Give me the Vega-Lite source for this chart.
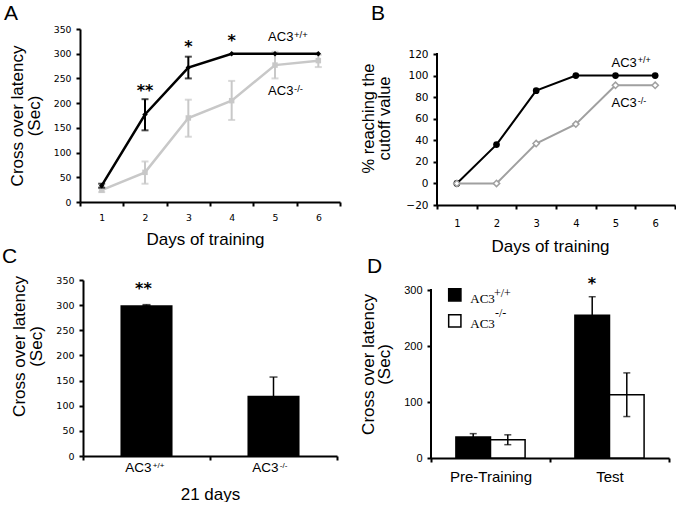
{
  "$schema": "https://vega.github.io/schema/vega-lite/v6.json",
  "background": "white",
  "padding": {"left": 2, "top": 3, "right": 0, "bottom": 0},
  "bounds": "flush",
  "columns": 2,
  "spacing": {"row": 75, "column": 91},
  "datasets": {
    "latency": [
      {"day": 1, "genotype": "WT", "mean": 33, "lo": 29, "hi": 37},
      {"day": 2, "genotype": "WT", "mean": 177, "lo": 145, "hi": 208},
      {"day": 3, "genotype": "WT", "mean": 272, "lo": 250, "hi": 294},
      {"day": 4, "genotype": "WT", "mean": 300, "lo": null, "hi": null},
      {"day": 5, "genotype": "WT", "mean": 300, "lo": null, "hi": null},
      {"day": 6, "genotype": "WT", "mean": 300, "lo": null, "hi": null},
      {"day": 1, "genotype": "KO", "mean": 24, "lo": 20, "hi": 28},
      {"day": 2, "genotype": "KO", "mean": 60, "lo": 37, "hi": 82},
      {"day": 3, "genotype": "KO", "mean": 170, "lo": 132, "hi": 207},
      {"day": 4, "genotype": "KO", "mean": 205, "lo": 166, "hi": 245},
      {"day": 5, "genotype": "KO", "mean": 277, "lo": 250, "hi": 304},
      {"day": 6, "genotype": "KO", "mean": 286, "lo": 273, "hi": 298}
    ],
    "signifA": [
      {"day": 2, "stars": "**", "level": 225},
      {"day": 3, "stars": "*", "level": 313},
      {"day": 4, "stars": "*", "level": 325}
    ],
    "cutoff": [
      {"day": 1, "genotype": "WT", "pct": 0},
      {"day": 2, "genotype": "WT", "pct": 36},
      {"day": 3, "genotype": "WT", "pct": 86},
      {"day": 4, "genotype": "WT", "pct": 100},
      {"day": 5, "genotype": "WT", "pct": 100},
      {"day": 6, "genotype": "WT", "pct": 100},
      {"day": 1, "genotype": "KO", "pct": 0},
      {"day": 2, "genotype": "KO", "pct": 0},
      {"day": 3, "genotype": "KO", "pct": 37},
      {"day": 4, "genotype": "KO", "pct": 55},
      {"day": 5, "genotype": "KO", "pct": 91},
      {"day": 6, "genotype": "KO", "pct": 91}
    ],
    "trial21": [
      {"genotype": "AC3+/+", "base": "AC3", "sup": "+/+", "mean": 300, "lo": 299, "hi": 301},
      {"genotype": "AC3-/-", "base": "AC3", "sup": "-/-", "mean": 120, "lo": 83, "hi": 157}
    ],
    "avoidance": [
      {"phase": "Pre-Training", "genotype": "WT", "mean": 37.5, "lo": 31.5, "hi": 43.5},
      {"phase": "Pre-Training", "genotype": "KO", "mean": 32.6, "lo": 23.8, "hi": 41.4},
      {"phase": "Test", "genotype": "WT", "mean": 255, "lo": 222, "hi": 288},
      {"phase": "Test", "genotype": "KO", "mean": 113, "lo": 74, "hi": 152}
    ]
  },
  "concat": [
    {
      "width": 260,
      "height": 173,
      "data": {"name": "latency"},
      "encoding": {
        "x": {"field": "day", "type": "ordinal", "scale": {"type": "band", "paddingInner": 0, "paddingOuter": 0},
              "axis": {"title": "Days of training", "tickBand": "extent", "labelFontSize": 9.3, "labelPadding": 7, "titlePadding": 9, "titleX": 125}}
      },
      "layer": [
        {"transform": [{"filter": "datum.genotype === 'KO'"}],
         "mark": {"type": "line", "color": "#c8c8c8", "strokeWidth": 2.5},
         "encoding": {"y": {"field": "mean", "type": "quantitative", "scale": {"domain": [0, 350], "nice": false},
           "axis": {"values": [0, 50, 100, 150, 200, 250, 300, 350], "labelOverlap": false, "title": ["Cross over latency", "(Sec)"], "labelFontSize": 9.3, "titlePadding": 10, "titleLineHeight": 17, "labelPadding": 5}}}},
        {"transform": [{"filter": "datum.genotype === 'KO'"}],
         "mark": {"type": "rule", "color": "#c8c8c8", "strokeWidth": 2},
         "encoding": {"y": {"field": "lo", "type": "quantitative", "scale": {"domain": [0, 350], "nice": false},
           "axis": {"values": [0, 50, 100, 150, 200, 250, 300, 350], "labelOverlap": false, "title": ["Cross over latency", "(Sec)"], "labelFontSize": 9.3, "titlePadding": 10, "titleLineHeight": 17, "labelPadding": 5}}, "y2": {"field": "hi"}}},
        {"transform": [{"filter": "datum.genotype === 'KO'"}, {"fold": ["lo", "hi"], "as": ["bound", "edge"]}],
         "mark": {"type": "tick", "color": "#c8c8c8", "size": 7, "thickness": 2},
         "encoding": {"y": {"field": "edge", "type": "quantitative", "scale": {"domain": [0, 350], "nice": false},
           "axis": {"values": [0, 50, 100, 150, 200, 250, 300, 350], "labelOverlap": false, "title": ["Cross over latency", "(Sec)"], "labelFontSize": 9.3, "titlePadding": 10, "titleLineHeight": 17, "labelPadding": 5}}}},
        {"transform": [{"filter": "datum.genotype === 'KO'"}],
         "mark": {"type": "point", "shape": "square", "filled": true, "color": "#c8c8c8", "size": 30, "opacity": 1},
         "encoding": {"y": {"field": "mean", "type": "quantitative", "scale": {"domain": [0, 350], "nice": false},
           "axis": {"values": [0, 50, 100, 150, 200, 250, 300, 350], "labelOverlap": false, "title": ["Cross over latency", "(Sec)"], "labelFontSize": 9.3, "titlePadding": 10, "titleLineHeight": 17, "labelPadding": 5}}}},
        {"transform": [{"filter": "datum.genotype === 'WT'"}],
         "mark": {"type": "line", "color": "black", "strokeWidth": 2.5},
         "encoding": {"y": {"field": "mean", "type": "quantitative", "scale": {"domain": [0, 350], "nice": false},
           "axis": {"values": [0, 50, 100, 150, 200, 250, 300, 350], "labelOverlap": false, "title": ["Cross over latency", "(Sec)"], "labelFontSize": 9.3, "titlePadding": 10, "titleLineHeight": 17, "labelPadding": 5}}}},
        {"transform": [{"filter": "datum.genotype === 'WT'"}],
         "mark": {"type": "rule", "color": "black", "strokeWidth": 2},
         "encoding": {"y": {"field": "lo", "type": "quantitative", "scale": {"domain": [0, 350], "nice": false},
           "axis": {"values": [0, 50, 100, 150, 200, 250, 300, 350], "labelOverlap": false, "title": ["Cross over latency", "(Sec)"], "labelFontSize": 9.3, "titlePadding": 10, "titleLineHeight": 17, "labelPadding": 5}}, "y2": {"field": "hi"}}},
        {"transform": [{"filter": "datum.genotype === 'WT'"}, {"fold": ["lo", "hi"], "as": ["bound", "edge"]}],
         "mark": {"type": "tick", "color": "black", "size": 7, "thickness": 2},
         "encoding": {"y": {"field": "edge", "type": "quantitative", "scale": {"domain": [0, 350], "nice": false},
           "axis": {"values": [0, 50, 100, 150, 200, 250, 300, 350], "labelOverlap": false, "title": ["Cross over latency", "(Sec)"], "labelFontSize": 9.3, "titlePadding": 10, "titleLineHeight": 17, "labelPadding": 5}}}},
        {"transform": [{"filter": "datum.genotype === 'WT'"}],
         "mark": {"type": "point", "shape": "diamond", "filled": true, "color": "black", "size": 30, "opacity": 1},
         "encoding": {"y": {"field": "mean", "type": "quantitative", "scale": {"domain": [0, 350], "nice": false},
           "axis": {"values": [0, 50, 100, 150, 200, 250, 300, 350], "labelOverlap": false, "title": ["Cross over latency", "(Sec)"], "labelFontSize": 9.3, "titlePadding": 10, "titleLineHeight": 17, "labelPadding": 5}}}},
        {"data": {"name": "signifA"},
         "mark": {"type": "text", "font": "DejaVu Sans", "fontWeight": "bold", "fontSize": 16, "baseline": "middle", "color": "black"},
         "encoding": {"y": {"field": "level", "type": "quantitative", "scale": {"domain": [0, 350], "nice": false},
           "axis": {"values": [0, 50, 100, 150, 200, 250, 300, 350], "labelOverlap": false, "title": ["Cross over latency", "(Sec)"], "labelFontSize": 9.3, "titlePadding": 10, "titleLineHeight": 17, "labelPadding": 5}}, "text": {"field": "stars"}}},
        {"data": {"values": [{"label": "AC3", "sup": "+/+"}]},
         "mark": {"type": "text", "align": "left", "baseline": "alphabetic", "fontSize": 13, "color": "black"},
         "encoding": {"x": {"datum": 5, "type": "ordinal", "bandPosition": 0.34},
           "y": {"datum": 326, "type": "quantitative", "scale": {"domain": [0, 350], "nice": false},
             "axis": {"values": [0, 50, 100, 150, 200, 250, 300, 350], "labelOverlap": false, "title": ["Cross over latency", "(Sec)"], "labelFontSize": 9.3, "titlePadding": 10, "titleLineHeight": 17, "labelPadding": 5}},
           "text": {"field": "label"}}},
        {"data": {"values": [{"label": "AC3", "sup": "+/+"}]},
         "mark": {"type": "text", "align": "left", "baseline": "alphabetic", "fontSize": 9.5, "color": "black"},
         "encoding": {"x": {"datum": 5, "type": "ordinal", "bandPosition": 0.94},
           "y": {"datum": 331, "type": "quantitative", "scale": {"domain": [0, 350], "nice": false},
             "axis": {"values": [0, 50, 100, 150, 200, 250, 300, 350], "labelOverlap": false, "title": ["Cross over latency", "(Sec)"], "labelFontSize": 9.3, "titlePadding": 10, "titleLineHeight": 17, "labelPadding": 5}},
           "text": {"field": "sup"}}},
        {"data": {"values": [{"label": "AC3", "sup": "-/-"}]},
         "mark": {"type": "text", "align": "left", "baseline": "alphabetic", "fontSize": 13, "color": "black"},
         "encoding": {"x": {"datum": 5, "type": "ordinal", "bandPosition": 0.34},
           "y": {"datum": 216.5, "type": "quantitative", "scale": {"domain": [0, 350], "nice": false},
             "axis": {"values": [0, 50, 100, 150, 200, 250, 300, 350], "labelOverlap": false, "title": ["Cross over latency", "(Sec)"], "labelFontSize": 9.3, "titlePadding": 10, "titleLineHeight": 17, "labelPadding": 5}},
           "text": {"field": "label"}}},
        {"data": {"values": [{"label": "AC3", "sup": "-/-"}]},
         "mark": {"type": "text", "align": "left", "baseline": "alphabetic", "fontSize": 9.5, "color": "black"},
         "encoding": {"x": {"datum": 5, "type": "ordinal", "bandPosition": 0.94},
           "y": {"datum": 222, "type": "quantitative", "scale": {"domain": [0, 350], "nice": false},
             "axis": {"values": [0, 50, 100, 150, 200, 250, 300, 350], "labelOverlap": false, "title": ["Cross over latency", "(Sec)"], "labelFontSize": 9.3, "titlePadding": 10, "titleLineHeight": 17, "labelPadding": 5}},
           "text": {"field": "sup"}}},
        {"data": {"values": [{"letter": "A"}]},
         "mark": {"type": "text", "align": "left", "baseline": "alphabetic", "fontSize": 21, "dx": -76, "dy": -9, "color": "black"},
         "encoding": {"x": {"datum": 1, "type": "ordinal", "bandPosition": 0},
           "y": {"datum": 350, "type": "quantitative", "scale": {"domain": [0, 350], "nice": false},
             "axis": {"values": [0, 50, 100, 150, 200, 250, 300, 350], "labelOverlap": false, "title": ["Cross over latency", "(Sec)"], "labelFontSize": 9.3, "titlePadding": 10, "titleLineHeight": 17, "labelPadding": 5}},
           "text": {"field": "letter"}}}
      ]
    },
    {
      "width": 244,
      "height": 176,
      "data": {"name": "cutoff"},
      "encoding": {
        "x": {"field": "day", "type": "ordinal", "scale": {"type": "band", "paddingInner": 0, "paddingOuter": 0, "range": [6, 244]},
              "axis": {"title": "Days of training", "tickBand": "extent", "labelFontSize": 10, "labelPadding": 9, "titlePadding": 10, "titleX": 119}}
      },
      "layer": [
        {"data": {"values": [{"from": -20, "to": 120}]},
         "mark": {"type": "rule", "color": "black", "strokeWidth": 2, "strokeCap": "square"},
         "encoding": {"x": {"datum": 1, "type": "ordinal", "bandPosition": 0},
           "y": {"field": "from", "type": "quantitative", "scale": {"domain": [-20, 143.18], "nice": false},
             "axis": {"values": [-20, 0, 20, 40, 60, 80, 100, 120], "labelOverlap": false, "domain": false, "offset": -6, "title": ["% reaching the", "cutoff value"], "labelFontSize": 10.5, "titleFontSize": 16.5, "titlePadding": 13, "titleLineHeight": 16, "titleY": 89, "labelPadding": 5}},
           "y2": {"field": "to"}}},
        {"transform": [{"filter": "datum.genotype === 'WT'"}],
         "mark": {"type": "line", "color": "black", "strokeWidth": 2},
         "encoding": {"y": {"field": "pct", "type": "quantitative", "scale": {"domain": [-20, 143.18], "nice": false},
           "axis": {"values": [-20, 0, 20, 40, 60, 80, 100, 120], "labelOverlap": false, "domain": false, "offset": -6, "title": ["% reaching the", "cutoff value"], "labelFontSize": 10.5, "titleFontSize": 16.5, "titlePadding": 13, "titleLineHeight": 16, "titleY": 89, "labelPadding": 5}}}},
        {"transform": [{"filter": "datum.genotype === 'WT'"}],
         "mark": {"type": "point", "shape": "circle", "filled": true, "color": "black", "size": 45, "opacity": 1},
         "encoding": {"y": {"field": "pct", "type": "quantitative", "scale": {"domain": [-20, 143.18], "nice": false},
           "axis": {"values": [-20, 0, 20, 40, 60, 80, 100, 120], "labelOverlap": false, "domain": false, "offset": -6, "title": ["% reaching the", "cutoff value"], "labelFontSize": 10.5, "titleFontSize": 16.5, "titlePadding": 13, "titleLineHeight": 16, "titleY": 89, "labelPadding": 5}}}},
        {"transform": [{"filter": "datum.genotype === 'KO'"}],
         "mark": {"type": "line", "color": "#a0a0a0", "strokeWidth": 2},
         "encoding": {"y": {"field": "pct", "type": "quantitative", "scale": {"domain": [-20, 143.18], "nice": false},
           "axis": {"values": [-20, 0, 20, 40, 60, 80, 100, 120], "labelOverlap": false, "domain": false, "offset": -6, "title": ["% reaching the", "cutoff value"], "labelFontSize": 10.5, "titleFontSize": 16.5, "titlePadding": 13, "titleLineHeight": 16, "titleY": 89, "labelPadding": 5}}}},
        {"transform": [{"filter": "datum.genotype === 'KO'"}],
         "mark": {"type": "point", "shape": "diamond", "filled": false, "fill": "white", "stroke": "#a0a0a0", "strokeWidth": 1.5, "size": 40, "opacity": 1},
         "encoding": {"y": {"field": "pct", "type": "quantitative", "scale": {"domain": [-20, 143.18], "nice": false},
           "axis": {"values": [-20, 0, 20, 40, 60, 80, 100, 120], "labelOverlap": false, "domain": false, "offset": -6, "title": ["% reaching the", "cutoff value"], "labelFontSize": 10.5, "titleFontSize": 16.5, "titlePadding": 13, "titleLineHeight": 16, "titleY": 89, "labelPadding": 5}}}},
        {"data": {"values": [{"label": "AC3", "sup": "+/+"}]},
         "mark": {"type": "text", "align": "left", "baseline": "alphabetic", "fontSize": 13, "color": "black"},
         "encoding": {"x": {"datum": 5, "type": "ordinal", "bandPosition": 0.4},
           "y": {"datum": 108, "type": "quantitative", "scale": {"domain": [-20, 143.18], "nice": false},
             "axis": {"values": [-20, 0, 20, 40, 60, 80, 100, 120], "labelOverlap": false, "domain": false, "offset": -6, "title": ["% reaching the", "cutoff value"], "labelFontSize": 10.5, "titleFontSize": 16.5, "titlePadding": 13, "titleLineHeight": 16, "titleY": 89, "labelPadding": 5}},
           "text": {"field": "label"}}},
        {"data": {"values": [{"label": "AC3", "sup": "+/+"}]},
         "mark": {"type": "text", "align": "left", "baseline": "alphabetic", "fontSize": 9, "color": "black"},
         "encoding": {"x": {"datum": 6, "type": "ordinal", "bandPosition": 0.06},
           "y": {"datum": 112, "type": "quantitative", "scale": {"domain": [-20, 143.18], "nice": false},
             "axis": {"values": [-20, 0, 20, 40, 60, 80, 100, 120], "labelOverlap": false, "domain": false, "offset": -6, "title": ["% reaching the", "cutoff value"], "labelFontSize": 10.5, "titleFontSize": 16.5, "titlePadding": 13, "titleLineHeight": 16, "titleY": 89, "labelPadding": 5}},
           "text": {"field": "sup"}}},
        {"data": {"values": [{"label": "AC3", "sup": "-/-"}]},
         "mark": {"type": "text", "align": "left", "baseline": "alphabetic", "fontSize": 13, "color": "black"},
         "encoding": {"x": {"datum": 5, "type": "ordinal", "bandPosition": 0.4},
           "y": {"datum": 70.6, "type": "quantitative", "scale": {"domain": [-20, 143.18], "nice": false},
             "axis": {"values": [-20, 0, 20, 40, 60, 80, 100, 120], "labelOverlap": false, "domain": false, "offset": -6, "title": ["% reaching the", "cutoff value"], "labelFontSize": 10.5, "titleFontSize": 16.5, "titlePadding": 13, "titleLineHeight": 16, "titleY": 89, "labelPadding": 5}},
           "text": {"field": "label"}}},
        {"data": {"values": [{"label": "AC3", "sup": "-/-"}]},
         "mark": {"type": "text", "align": "left", "baseline": "alphabetic", "fontSize": 9, "color": "black"},
         "encoding": {"x": {"datum": 6, "type": "ordinal", "bandPosition": 0.06},
           "y": {"datum": 74, "type": "quantitative", "scale": {"domain": [-20, 143.18], "nice": false},
             "axis": {"values": [-20, 0, 20, 40, 60, 80, 100, 120], "labelOverlap": false, "domain": false, "offset": -6, "title": ["% reaching the", "cutoff value"], "labelFontSize": 10.5, "titleFontSize": 16.5, "titlePadding": 13, "titleLineHeight": 16, "titleY": 89, "labelPadding": 5}},
           "text": {"field": "sup"}}},
        {"data": {"values": [{"letter": "B"}]},
         "mark": {"type": "text", "align": "left", "baseline": "alphabetic", "fontSize": 21, "dx": -66, "dy": -34, "color": "black"},
         "encoding": {"x": {"datum": 1, "type": "ordinal", "bandPosition": 0},
           "y": {"datum": 120, "type": "quantitative", "scale": {"domain": [-20, 143.18], "nice": false},
             "axis": {"values": [-20, 0, 20, 40, 60, 80, 100, 120], "labelOverlap": false, "domain": false, "offset": -6, "title": ["% reaching the", "cutoff value"], "labelFontSize": 10.5, "titleFontSize": 16.5, "titlePadding": 13, "titleLineHeight": 16, "titleY": 89, "labelPadding": 5}},
           "text": {"field": "letter"}}}
      ]
    },
    {
      "width": 257,
      "height": 176,
      "data": {"name": "trial21"},
      "encoding": {
        "x": {"field": "genotype", "type": "nominal", "sort": null, "scale": {"type": "band", "paddingInner": 0, "paddingOuter": 0, "range": [3, 257]},
              "axis": {"labels": false, "tickBand": "extent", "title": "21 days", "titlePadding": 25, "titleFontSize": 17}}
      },
      "layer": [
        {"mark": {"type": "bar", "color": "black", "width": {"band": 0.41}},
         "encoding": {"y": {"field": "mean", "type": "quantitative", "scale": {"domain": [0, 350], "nice": false},
           "axis": {"values": [0, 50, 100, 150, 200, 250, 300, 350], "labelOverlap": false, "offset": -3, "title": ["Cross over latency", "(Sec)"], "labelFontSize": 9.5, "titlePadding": 10, "titleLineHeight": 17, "titleY": 66, "labelPadding": 5}}}},
        {"mark": {"type": "rule", "color": "black", "strokeWidth": 1.5},
         "encoding": {"y": {"field": "lo", "type": "quantitative", "scale": {"domain": [0, 350], "nice": false},
           "axis": {"values": [0, 50, 100, 150, 200, 250, 300, 350], "labelOverlap": false, "offset": -3, "title": ["Cross over latency", "(Sec)"], "labelFontSize": 9.5, "titlePadding": 10, "titleLineHeight": 17, "titleY": 66, "labelPadding": 5}}, "y2": {"field": "hi"}}},
        {"transform": [{"fold": ["lo", "hi"], "as": ["bound", "edge"]}],
         "mark": {"type": "tick", "color": "black", "size": 8, "thickness": 1.5},
         "encoding": {"y": {"field": "edge", "type": "quantitative", "scale": {"domain": [0, 350], "nice": false},
           "axis": {"values": [0, 50, 100, 150, 200, 250, 300, 350], "labelOverlap": false, "offset": -3, "title": ["Cross over latency", "(Sec)"], "labelFontSize": 9.5, "titlePadding": 10, "titleLineHeight": 17, "titleY": 66, "labelPadding": 5}}}},
        {"mark": {"type": "text", "align": "right", "baseline": "alphabetic", "fontSize": 13.5, "color": "black"},
         "encoding": {"x": {"field": "genotype", "type": "nominal", "sort": null, "bandPosition": 0.54},
           "y": {"datum": -32, "type": "quantitative", "scale": {"domain": [0, 350], "nice": false},
             "axis": {"values": [0, 50, 100, 150, 200, 250, 300, 350], "labelOverlap": false, "offset": -3, "title": ["Cross over latency", "(Sec)"], "labelFontSize": 9.5, "titlePadding": 10, "titleLineHeight": 17, "titleY": 66, "labelPadding": 5}},
           "text": {"field": "base"}}},
        {"mark": {"type": "text", "align": "left", "baseline": "alphabetic", "fontSize": 8, "color": "black"},
         "encoding": {"x": {"field": "genotype", "type": "nominal", "sort": null, "bandPosition": 0.55},
           "y": {"datum": -24.6, "type": "quantitative", "scale": {"domain": [0, 350], "nice": false},
             "axis": {"values": [0, 50, 100, 150, 200, 250, 300, 350], "labelOverlap": false, "offset": -3, "title": ["Cross over latency", "(Sec)"], "labelFontSize": 9.5, "titlePadding": 10, "titleLineHeight": 17, "titleY": 66, "labelPadding": 5}},
           "text": {"field": "sup"}}},
        {"data": {"values": [{"stars": "**"}]},
         "mark": {"type": "text", "font": "DejaVu Sans", "fontWeight": "bold", "fontSize": 16, "baseline": "middle", "color": "black"},
         "encoding": {"x": {"datum": "AC3+/+", "type": "nominal", "bandPosition": 0.476},
           "y": {"datum": 332, "type": "quantitative", "scale": {"domain": [0, 350], "nice": false},
             "axis": {"values": [0, 50, 100, 150, 200, 250, 300, 350], "labelOverlap": false, "offset": -3, "title": ["Cross over latency", "(Sec)"], "labelFontSize": 9.5, "titlePadding": 10, "titleLineHeight": 17, "titleY": 66, "labelPadding": 5}},
           "text": {"field": "stars"}}},
        {"data": {"values": [{"letter": "C"}]},
         "mark": {"type": "text", "align": "left", "baseline": "alphabetic", "fontSize": 21, "dx": -81, "dy": -17, "color": "black"},
         "encoding": {"x": {"datum": "AC3+/+", "type": "nominal", "bandPosition": 0},
           "y": {"datum": 350, "type": "quantitative", "scale": {"domain": [0, 350], "nice": false},
             "axis": {"values": [0, 50, 100, 150, 200, 250, 300, 350], "labelOverlap": false, "offset": -3, "title": ["Cross over latency", "(Sec)"], "labelFontSize": 9.5, "titlePadding": 10, "titleLineHeight": 17, "titleY": 66, "labelPadding": 5}},
           "text": {"field": "letter"}}}
      ]
    },
    {
      "width": 238,
      "height": 178,
      "data": {"name": "avoidance"},
      "encoding": {
        "x": {"field": "phase", "type": "nominal", "sort": null, "scale": {"type": "band", "paddingInner": 0, "paddingOuter": 0},
              "axis": {"title": null, "tickBand": "extent", "labelFont": "Liberation Sans", "labelFontSize": 15, "labelPadding": 7}}
      },
      "layer": [
        {"mark": {"type": "bar", "stroke": "black", "strokeWidth": 1.5},
         "encoding": {
           "xOffset": {"field": "genotype", "type": "nominal", "sort": null, "scale": {"domain": ["WT", "KO"], "paddingInner": 0, "paddingOuter": 0.72}},
           "y": {"field": "mean", "type": "quantitative", "scale": {"domain": [0, 317.86], "nice": false},
             "axis": {"values": [0, 100, 200, 300], "labelOverlap": false, "domain": false, "title": ["Cross over latency", "(Sec)"], "labelFont": "Liberation Sans", "labelFontSize": 11, "titlePadding": 10, "titleLineHeight": 16, "titleY": 84, "labelPadding": 5}},
           "fill": {"field": "genotype", "type": "nominal", "scale": {"domain": ["WT", "KO"], "range": ["black", "white"]}, "legend": null}
         }},
        {"mark": {"type": "rule", "color": "black", "strokeWidth": 1.5},
         "encoding": {
           "xOffset": {"field": "genotype", "type": "nominal", "sort": null, "scale": {"domain": ["WT", "KO"], "paddingInner": 0, "paddingOuter": 0.72}},
           "y": {"field": "lo", "type": "quantitative", "scale": {"domain": [0, 317.86], "nice": false},
             "axis": {"values": [0, 100, 200, 300], "labelOverlap": false, "domain": false, "title": ["Cross over latency", "(Sec)"], "labelFont": "Liberation Sans", "labelFontSize": 11, "titlePadding": 10, "titleLineHeight": 16, "titleY": 84, "labelPadding": 5}},
           "y2": {"field": "hi"}}},
        {"transform": [{"fold": ["lo", "hi"], "as": ["bound", "edge"]}],
         "mark": {"type": "tick", "color": "black", "size": 7, "thickness": 1.5},
         "encoding": {
           "xOffset": {"field": "genotype", "type": "nominal", "sort": null, "scale": {"domain": ["WT", "KO"], "paddingInner": 0, "paddingOuter": 0.72}},
           "y": {"field": "edge", "type": "quantitative", "scale": {"domain": [0, 317.86], "nice": false},
             "axis": {"values": [0, 100, 200, 300], "labelOverlap": false, "domain": false, "title": ["Cross over latency", "(Sec)"], "labelFont": "Liberation Sans", "labelFontSize": 11, "titlePadding": 10, "titleLineHeight": 16, "titleY": 84, "labelPadding": 5}}}},
        {"data": {"values": [{"from": 0, "to": 300}]},
         "mark": {"type": "rule", "color": "black", "strokeWidth": 2, "strokeCap": "square"},
         "encoding": {"x": {"datum": "Pre-Training", "type": "nominal", "bandPosition": 0},
           "y": {"field": "from", "type": "quantitative", "scale": {"domain": [0, 317.86], "nice": false},
             "axis": {"values": [0, 100, 200, 300], "labelOverlap": false, "domain": false, "title": ["Cross over latency", "(Sec)"], "labelFont": "Liberation Sans", "labelFontSize": 11, "titlePadding": 10, "titleLineHeight": 16, "titleY": 84, "labelPadding": 5}},
           "y2": {"field": "to"}}},
        {"data": {"values": [{"stars": "*"}]},
         "mark": {"type": "text", "font": "DejaVu Sans", "fontWeight": "bold", "fontSize": 16, "baseline": "middle", "color": "black"},
         "encoding": {"x": {"datum": "Test", "type": "nominal", "bandPosition": 0.353},
           "y": {"datum": 311, "type": "quantitative", "scale": {"domain": [0, 317.86], "nice": false},
             "axis": {"values": [0, 100, 200, 300], "labelOverlap": false, "domain": false, "title": ["Cross over latency", "(Sec)"], "labelFont": "Liberation Sans", "labelFontSize": 11, "titlePadding": 10, "titleLineHeight": 16, "titleY": 84, "labelPadding": 5}},
           "text": {"field": "stars"}}},
        {"data": {"values": [{"genotype": "WT"}]},
         "mark": {"type": "point", "shape": "square", "filled": true, "fill": "black", "stroke": "black", "strokeWidth": 1.5, "size": 150, "opacity": 1},
         "encoding": {"x": {"datum": "Pre-Training", "type": "nominal", "bandPosition": 0.2},
           "y": {"datum": 291.4, "type": "quantitative", "scale": {"domain": [0, 317.86], "nice": false},
             "axis": {"values": [0, 100, 200, 300], "labelOverlap": false, "domain": false, "title": ["Cross over latency", "(Sec)"], "labelFont": "Liberation Sans", "labelFontSize": 11, "titlePadding": 10, "titleLineHeight": 16, "titleY": 84, "labelPadding": 5}}}},
        {"data": {"values": [{"genotype": "KO"}]},
         "mark": {"type": "point", "shape": "square", "filled": true, "fill": "white", "stroke": "black", "strokeWidth": 1.5, "size": 150, "opacity": 1},
         "encoding": {"x": {"datum": "Pre-Training", "type": "nominal", "bandPosition": 0.2},
           "y": {"datum": 245, "type": "quantitative", "scale": {"domain": [0, 317.86], "nice": false},
             "axis": {"values": [0, 100, 200, 300], "labelOverlap": false, "domain": false, "title": ["Cross over latency", "(Sec)"], "labelFont": "Liberation Sans", "labelFontSize": 11, "titlePadding": 10, "titleLineHeight": 16, "titleY": 84, "labelPadding": 5}}}},
        {"data": {"values": [{"label": "AC3"}]},
         "mark": {"type": "text", "font": "Liberation Serif", "align": "left", "baseline": "alphabetic", "fontSize": 13, "color": "black"},
         "encoding": {"x": {"datum": "Pre-Training", "type": "nominal", "bandPosition": 0.33},
           "y": {"datum": 276.3, "type": "quantitative", "scale": {"domain": [0, 317.86], "nice": false},
             "axis": {"values": [0, 100, 200, 300], "labelOverlap": false, "domain": false, "title": ["Cross over latency", "(Sec)"], "labelFont": "Liberation Sans", "labelFontSize": 11, "titlePadding": 10, "titleLineHeight": 16, "titleY": 84, "labelPadding": 5}},
           "text": {"field": "label"}}},
        {"data": {"values": [{"label": "AC3"}]},
         "mark": {"type": "text", "font": "Liberation Serif", "align": "left", "baseline": "alphabetic", "fontSize": 13, "color": "black"},
         "encoding": {"x": {"datum": "Pre-Training", "type": "nominal", "bandPosition": 0.33},
           "y": {"datum": 231.7, "type": "quantitative", "scale": {"domain": [0, 317.86], "nice": false},
             "axis": {"values": [0, 100, 200, 300], "labelOverlap": false, "domain": false, "title": ["Cross over latency", "(Sec)"], "labelFont": "Liberation Sans", "labelFontSize": 11, "titlePadding": 10, "titleLineHeight": 16, "titleY": 84, "labelPadding": 5}},
           "text": {"field": "label"}}},
        {"data": {"values": [{"sup": "+/+"}]},
         "mark": {"type": "text", "font": "Liberation Serif", "align": "left", "baseline": "alphabetic", "fontSize": 12, "color": "black"},
         "encoding": {"x": {"datum": "Pre-Training", "type": "nominal", "bandPosition": 0.529},
           "y": {"datum": 288, "type": "quantitative", "scale": {"domain": [0, 317.86], "nice": false},
             "axis": {"values": [0, 100, 200, 300], "labelOverlap": false, "domain": false, "title": ["Cross over latency", "(Sec)"], "labelFont": "Liberation Sans", "labelFontSize": 11, "titlePadding": 10, "titleLineHeight": 16, "titleY": 84, "labelPadding": 5}},
           "text": {"field": "sup"}}},
        {"data": {"values": [{"sup": "-/-"}]},
         "mark": {"type": "text", "font": "Liberation Serif", "align": "left", "baseline": "alphabetic", "fontSize": 12, "color": "black"},
         "encoding": {"x": {"datum": "Pre-Training", "type": "nominal", "bandPosition": 0.538},
           "y": {"datum": 251.3, "type": "quantitative", "scale": {"domain": [0, 317.86], "nice": false},
             "axis": {"values": [0, 100, 200, 300], "labelOverlap": false, "domain": false, "title": ["Cross over latency", "(Sec)"], "labelFont": "Liberation Sans", "labelFontSize": 11, "titlePadding": 10, "titleLineHeight": 16, "titleY": 84, "labelPadding": 5}},
           "text": {"field": "sup"}}},
        {"data": {"values": [{"letter": "D"}]},
         "mark": {"type": "text", "align": "left", "baseline": "alphabetic", "fontSize": 21, "dx": -64, "dy": -17, "color": "black"},
         "encoding": {"x": {"datum": "Pre-Training", "type": "nominal", "bandPosition": 0},
           "y": {"datum": 300, "type": "quantitative", "scale": {"domain": [0, 317.86], "nice": false},
             "axis": {"values": [0, 100, 200, 300], "labelOverlap": false, "domain": false, "title": ["Cross over latency", "(Sec)"], "labelFont": "Liberation Sans", "labelFontSize": 11, "titlePadding": 10, "titleLineHeight": 16, "titleY": 84, "labelPadding": 5}},
           "text": {"field": "letter"}}}
      ]
    }
  ],
  "config": {
    "view": {"stroke": null},
    "font": "Liberation Sans",
    "text": {"font": "Liberation Sans", "color": "black"},
    "axis": {
      "domainColor": "black", "domainWidth": 2, "tickColor": "black", "tickWidth": 2, "tickSize": 4, "grid": false,
      "labelColor": "black", "labelFont": "DejaVu Sans", "labelAngle": 0, "labelOverlap": false,
      "titleColor": "black", "titleFont": "Liberation Sans", "titleFontWeight": "normal", "titleFontSize": 17
    }
  }
}
